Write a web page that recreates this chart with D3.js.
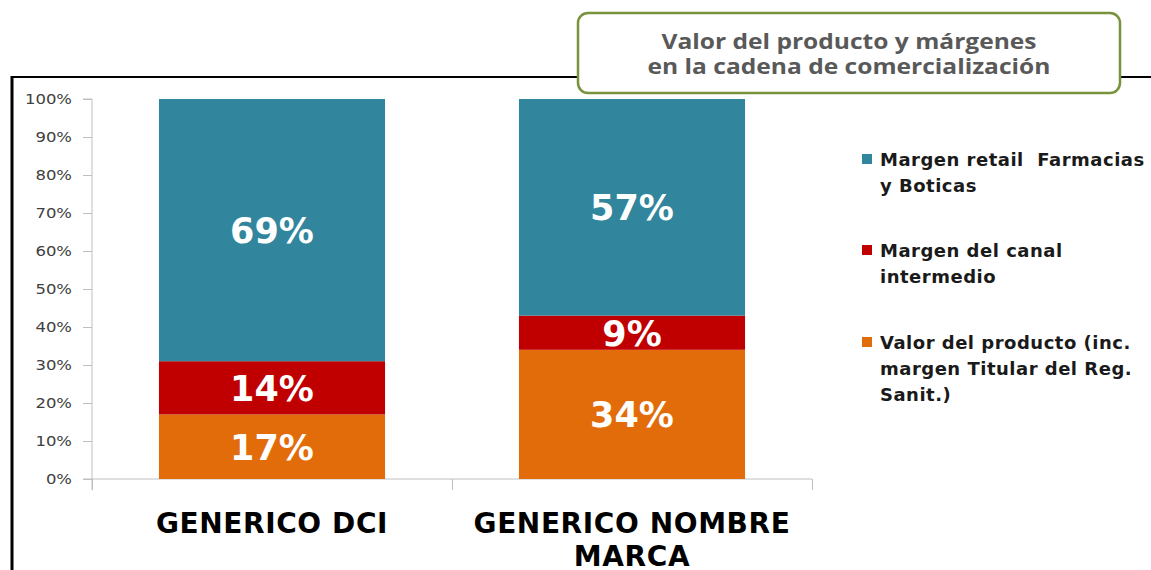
<!DOCTYPE html>
<html>
<head>
<meta charset="utf-8">
<script src="https://cdn.jsdelivr.net/npm/d3@7"></script>
<style>
  body { margin: 0; background: #fff; }
  svg { display: block; }
</style>
</head>
<body>
<div id="chart"></div>
<script>
// Data
const categories = ['GENERICO DCI', 'GENERICO NOMBRE MARCA'];
const categoryLines = [['GENERICO DCI'], ['GENERICO NOMBRE', 'MARCA']];
const seriesNames = ['Valor del producto', 'Margen del canal', 'Margen retail'];
const valorProducto = [17, 34];
const margenCanal = [14, 9];
const margenRetail = [69, 57];
const legendLabels = [
    ['Margen retail  Farmacias', 'y Boticas'],
    ['Margen del canal', 'intermedio'],
    ['Valor del producto (inc.', 'margen Titular del Reg.', 'Sanit.)']
];
const yTicks = [0, 10, 20, 30, 40, 50, 60, 70, 80, 90, 100];
const titleLines = ['Valor del producto y márgenes', 'en la cadena de comercialización'];

const colors = {
    'Valor del producto': '#E36C0A',
    'Margen del canal': '#C00000',
    'Margen retail': '#31859C'
};

const W = 1151, H = 570;
const plot = {left: 92, right: 812, top: 99, bottom: 479};

const svg = d3.select('#chart')
    .append('svg')
    .attr('width', W)
    .attr('height', H);

// Frame lines (left and top)
svg.append('line')
    .attr('x1', 12).attr('x2', 12).attr('y1', 76).attr('y2', H)
    .attr('stroke', '#000').attr('stroke-width', 3);
svg.append('line')
    .attr('x1', 11).attr('x2', W).attr('y1', 77).attr('y2', 77)
    .attr('stroke', '#000').attr('stroke-width', 2);

// Title box
svg.append('rect')
    .attr('x', 578).attr('y', 13)
    .attr('width', 542).attr('height', 80)
    .attr('rx', 10)
    .attr('fill', '#fff')
    .attr('stroke', '#77933C')
    .attr('stroke-width', 2.5);

// title text is slightly stretched horizontally, like the source
svg.append('g')
    .selectAll('text')
    .data(titleLines)
    .join('text')
    .attr('x', 0)
    .attr('y', 0)
    .attr('transform', (d, i) => `translate(849,${49 + i * 25}) scale(1.17,1)`)
    .attr('text-anchor', 'middle')
    .style('font-family', '"Open Sans", sans-serif')
    .style('font-weight', 700)
    .style('font-size', '21px')
    .style('fill', '#595959')
    .text(d => d);

// Scales
const x = d3.scaleBand()
    .domain(categories)
    .range([plot.left, plot.right])
    .paddingInner(0.372)
    .paddingOuter(0.186);

const y = d3.scaleLinear()
    .domain([0, 100])
    .range([plot.bottom, plot.top]);

// Stack the data
const rows = categories.map((c, i) => ({
    category: c,
    'Valor del producto': valorProducto[i],
    'Margen del canal': margenCanal[i],
    'Margen retail': margenRetail[i]
}));
const stacked = d3.stack().keys(seriesNames)(rows);

// Y axis
const yAxis = svg.append('g')
    .attr('transform', `translate(${plot.left},0)`)
    .call(d3.axisLeft(y).tickValues(yTicks).tickSize(9).tickFormat(d => d + '%'));
yAxis.select('.domain').attr('stroke', '#BFBFBF').attr('d', `M-9,${plot.top}H0V${plot.bottom + 11}`);
yAxis.selectAll('.tick line').attr('stroke', '#BFBFBF');
yAxis.selectAll('.tick text')
    .attr('x', 0)
    .attr('transform', 'translate(-20,0) scale(1.22,1)')
    .style('font-family', 'DejaVu Sans, Verdana, sans-serif')
    .style('font-size', '13.5px')
    .style('fill', '#404040');

// X axis with boundary ticks
const xEdge = d3.scaleLinear().domain([0, categories.length]).range([plot.left, plot.right]);
const xAxis = svg.append('g')
    .attr('transform', `translate(0,${plot.bottom})`)
    .call(d3.axisBottom(xEdge).tickValues(d3.range(categories.length + 1)).tickSize(11).tickFormat(''));
xAxis.select('.domain').attr('stroke', '#BFBFBF').attr('d', `M${plot.left - 9},0H${plot.right}`);
xAxis.selectAll('.tick line').attr('stroke', '#BFBFBF');

// Bars
const layer = svg.append('g')
    .selectAll('g')
    .data(stacked)
    .join('g')
    .attr('fill', d => colors[d.key]);

layer.selectAll('rect')
    .data(d => d)
    .join('rect')
    .attr('x', d => x(d.data.category))
    .attr('width', x.bandwidth())
    .attr('y', d => y(d[1]))
    .attr('height', d => y(d[0]) - y(d[1]));

// Value labels
const labelSize = 35;
layer.selectAll('text')
    .data(d => d.map(v => ({v: v, key: d.key})))
    .join('text')
    .attr('x', d => x(d.v.data.category) + x.bandwidth() / 2)
    .attr('y', d => y((d.v[0] + d.v[1]) / 2) + labelSize * 0.37)
    .attr('text-anchor', 'middle')
    .style('font-family', 'DejaVu Sans, Verdana, sans-serif')
    .style('font-weight', 'bold')
    .style('font-size', labelSize + 'px')
    .style('fill', '#fff')
    .text(d => d.v.data[d.key] + '%');

// Category labels
svg.append('g')
    .selectAll('text')
    .data(categories)
    .join('text')
    .attr('x', d => x(d) + x.bandwidth() / 2)
    .attr('y', 533)
    .attr('text-anchor', 'middle')
    .style('font-family', 'DejaVu Sans, Verdana, sans-serif')
    .style('font-weight', 'bold')
    .style('font-size', '28px')
    .style('letter-spacing', '0.6px')
    .style('fill', '#000')
    .selectAll('tspan')
    .data((d, i) => categoryLines[i])
    .join('tspan')
    .attr('x', function () { return this.parentNode.getAttribute('x'); })
    .attr('dy', (d, i) => i === 0 ? 0 : 33)
    .text(d => d);

// Legend
const legendKeys = ['Margen retail', 'Margen del canal', 'Valor del producto'];
const legendTop = [166, 257, 349];
const legend = svg.append('g')
    .selectAll('g')
    .data(legendKeys)
    .join('g')
    .attr('transform', (d, i) => `translate(862,${legendTop[i]})`);

legend.append('rect')
    .attr('x', 0).attr('y', -12)
    .attr('width', 10).attr('height', 10)
    .attr('fill', d => colors[d]);

legend.append('text')
    .attr('x', 18)
    .attr('y', 0)
    .style('font-family', 'DejaVu Sans, Verdana, sans-serif')
    .style('font-weight', 'bold')
    .style('font-size', '18px')
    .style('letter-spacing', '0.5px')
    .style('fill', '#1a1a1a')
    .style('white-space', 'pre')
    .selectAll('tspan')
    .data((d, i) => legendLabels[i])
    .join('tspan')
    .attr('x', 18)
    .attr('dy', (d, i) => i === 0 ? 0 : 26)
    .text(d => d);
</script>
</body>
</html>
